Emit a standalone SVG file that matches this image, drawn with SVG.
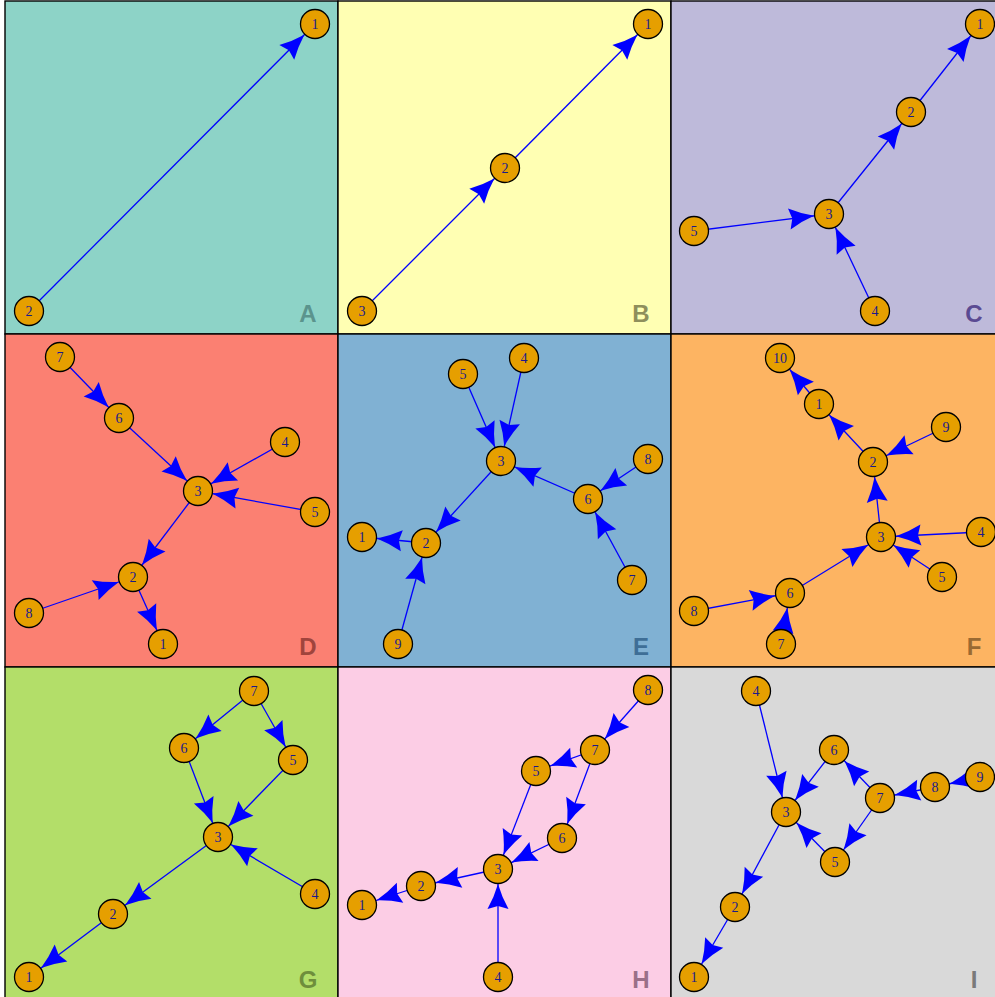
<svg xmlns="http://www.w3.org/2000/svg" width="995" height="997" viewBox="0 0 995 997">
<style>
.panel{stroke:#000;stroke-width:1.4}
.e{stroke:#0000ff;stroke-width:1.3;fill:none;marker-end:url(#ah)}
.n circle{fill:#E69F00;stroke:#000;stroke-width:1.3}
.n text{font-family:"Liberation Serif",serif;font-size:14px;fill:#1a1a8c;text-anchor:middle}
.lab{font-family:"Liberation Sans",Arial,sans-serif;font-weight:bold;font-size:24px;text-anchor:middle}
</style>
<defs>
<marker id="ah" markerUnits="userSpaceOnUse" orient="auto" refX="0" refY="0" markerWidth="1" markerHeight="1" overflow="visible">
<path d="M-15,0 Q-28,3.8 -40,10.5 L-37,0 L-40,-10.5 Q-28,-3.8 -15,0 Z" fill="#0000ff"/>
</marker>
</defs>
<g id="panels">
<rect class="panel" x="5" y="1" width="333" height="333" fill="#8DD3C7"/>
<rect class="panel" x="338" y="1" width="333" height="333" fill="#FFFFB3"/>
<rect class="panel" x="671" y="1" width="333" height="333" fill="#BEBADA"/>
<rect class="panel" x="5" y="334" width="333" height="333" fill="#FB8072"/>
<rect class="panel" x="338" y="334" width="333" height="333" fill="#80B1D3"/>
<rect class="panel" x="671" y="334" width="333" height="333" fill="#FDB462"/>
<rect class="panel" x="5" y="667" width="333" height="333" fill="#B3DE69"/>
<rect class="panel" x="338" y="667" width="333" height="333" fill="#FCCDE5"/>
<rect class="panel" x="671" y="667" width="333" height="333" fill="#D9D9D9"/>
</g>
<g id="labels">
<text class="lab" x="308" y="322" fill="#5b948d">A</text>
<text class="lab" x="641" y="322" fill="#8f8f5c">B</text>
<text class="lab" x="974" y="322" fill="#5a4a92">C</text>
<text class="lab" x="308" y="655" fill="#a0443c">D</text>
<text class="lab" x="641" y="655" fill="#3e6e96">E</text>
<text class="lab" x="974" y="655" fill="#9a6a32">F</text>
<text class="lab" x="308" y="988" fill="#6e8e3c">G</text>
<text class="lab" x="641" y="988" fill="#9a7088">H</text>
<text class="lab" x="974" y="988" fill="#7a7a7a">I</text>
</g>
<g id="connectors">
<line class="e" x1="29" y1="311" x2="315" y2="24"/>
<line class="e" x1="362" y1="311" x2="505" y2="168"/>
<line class="e" x1="505" y1="168" x2="648" y2="24"/>
<line class="e" x1="829" y1="214" x2="911" y2="112"/>
<line class="e" x1="911" y1="112" x2="980" y2="24"/>
<line class="e" x1="694" y1="231" x2="829" y2="214"/>
<line class="e" x1="875" y1="311" x2="829" y2="214"/>
<line class="e" x1="60" y1="357" x2="119" y2="418"/>
<line class="e" x1="119" y1="418" x2="198" y2="491"/>
<line class="e" x1="285" y1="442" x2="198" y2="491"/>
<line class="e" x1="315" y1="512" x2="198" y2="491"/>
<line class="e" x1="198" y1="491" x2="133" y2="577"/>
<line class="e" x1="29" y1="613" x2="133" y2="577"/>
<line class="e" x1="133" y1="577" x2="163" y2="644"/>
<line class="e" x1="463" y1="374" x2="501" y2="461"/>
<line class="e" x1="524" y1="358" x2="501" y2="461"/>
<line class="e" x1="588" y1="499" x2="501" y2="461"/>
<line class="e" x1="648" y1="459" x2="588" y2="499"/>
<line class="e" x1="632" y1="580" x2="588" y2="499"/>
<line class="e" x1="501" y1="461" x2="426" y2="543"/>
<line class="e" x1="426" y1="543" x2="362" y2="537"/>
<line class="e" x1="398" y1="644" x2="426" y2="543"/>
<line class="e" x1="819" y1="404" x2="780" y2="358"/>
<line class="e" x1="873" y1="462" x2="819" y2="404"/>
<line class="e" x1="946" y1="427" x2="873" y2="462"/>
<line class="e" x1="881" y1="537" x2="873" y2="462"/>
<line class="e" x1="981" y1="532" x2="881" y2="537"/>
<line class="e" x1="942" y1="577" x2="881" y2="537"/>
<line class="e" x1="790" y1="593" x2="881" y2="537"/>
<line class="e" x1="694" y1="611" x2="790" y2="593"/>
<line class="e" x1="781" y1="644" x2="790" y2="593"/>
<line class="e" x1="254" y1="691" x2="184" y2="748"/>
<line class="e" x1="254" y1="691" x2="293" y2="760"/>
<line class="e" x1="184" y1="748" x2="218" y2="837"/>
<line class="e" x1="293" y1="760" x2="218" y2="837"/>
<line class="e" x1="315" y1="894" x2="218" y2="837"/>
<line class="e" x1="218" y1="837" x2="113" y2="914"/>
<line class="e" x1="113" y1="914" x2="29" y2="977"/>
<line class="e" x1="648" y1="690" x2="595" y2="750"/>
<line class="e" x1="595" y1="750" x2="536" y2="771"/>
<line class="e" x1="595" y1="750" x2="562" y2="838"/>
<line class="e" x1="536" y1="771" x2="498" y2="869"/>
<line class="e" x1="562" y1="838" x2="498" y2="869"/>
<line class="e" x1="498" y1="977" x2="498" y2="869"/>
<line class="e" x1="498" y1="869" x2="421" y2="886"/>
<line class="e" x1="421" y1="886" x2="362" y2="905"/>
<line class="e" x1="756" y1="691" x2="786" y2="812"/>
<line class="e" x1="834" y1="750" x2="786" y2="812"/>
<line class="e" x1="880" y1="798" x2="834" y2="750"/>
<line class="e" x1="935" y1="787" x2="880" y2="798"/>
<line class="e" x1="980" y1="777" x2="935" y2="787"/>
<line class="e" x1="880" y1="798" x2="835" y2="862"/>
<line class="e" x1="835" y1="862" x2="786" y2="812"/>
<line class="e" x1="786" y1="812" x2="735" y2="907"/>
<line class="e" x1="735" y1="907" x2="694" y2="977"/>
</g>
<g id="A1" class="n" transform="translate(315,24)"><circle r="14.5"/><text y="5">1</text></g>
<g id="A2" class="n" transform="translate(29,311)"><circle r="14.5"/><text y="5">2</text></g>
<g id="B1" class="n" transform="translate(648,24)"><circle r="14.5"/><text y="5">1</text></g>
<g id="B2" class="n" transform="translate(505,168)"><circle r="14.5"/><text y="5">2</text></g>
<g id="B3" class="n" transform="translate(362,311)"><circle r="14.5"/><text y="5">3</text></g>
<g id="C1" class="n" transform="translate(980,24)"><circle r="14.5"/><text y="5">1</text></g>
<g id="C2" class="n" transform="translate(911,112)"><circle r="14.5"/><text y="5">2</text></g>
<g id="C3" class="n" transform="translate(829,214)"><circle r="14.5"/><text y="5">3</text></g>
<g id="C4" class="n" transform="translate(875,311)"><circle r="14.5"/><text y="5">4</text></g>
<g id="C5" class="n" transform="translate(694,231)"><circle r="14.5"/><text y="5">5</text></g>
<g id="D1" class="n" transform="translate(163,644)"><circle r="14.5"/><text y="5">1</text></g>
<g id="D2" class="n" transform="translate(133,577)"><circle r="14.5"/><text y="5">2</text></g>
<g id="D3" class="n" transform="translate(198,491)"><circle r="14.5"/><text y="5">3</text></g>
<g id="D4" class="n" transform="translate(285,442)"><circle r="14.5"/><text y="5">4</text></g>
<g id="D5" class="n" transform="translate(315,512)"><circle r="14.5"/><text y="5">5</text></g>
<g id="D6" class="n" transform="translate(119,418)"><circle r="14.5"/><text y="5">6</text></g>
<g id="D7" class="n" transform="translate(60,357)"><circle r="14.5"/><text y="5">7</text></g>
<g id="D8" class="n" transform="translate(29,613)"><circle r="14.5"/><text y="5">8</text></g>
<g id="E1" class="n" transform="translate(362,537)"><circle r="14.5"/><text y="5">1</text></g>
<g id="E2" class="n" transform="translate(426,543)"><circle r="14.5"/><text y="5">2</text></g>
<g id="E3" class="n" transform="translate(501,461)"><circle r="14.5"/><text y="5">3</text></g>
<g id="E4" class="n" transform="translate(524,358)"><circle r="14.5"/><text y="5">4</text></g>
<g id="E5" class="n" transform="translate(463,374)"><circle r="14.5"/><text y="5">5</text></g>
<g id="E6" class="n" transform="translate(588,499)"><circle r="14.5"/><text y="5">6</text></g>
<g id="E7" class="n" transform="translate(632,580)"><circle r="14.5"/><text y="5">7</text></g>
<g id="E8" class="n" transform="translate(648,459)"><circle r="14.5"/><text y="5">8</text></g>
<g id="E9" class="n" transform="translate(398,644)"><circle r="14.5"/><text y="5">9</text></g>
<g id="F1" class="n" transform="translate(819,404)"><circle r="14.5"/><text y="5">1</text></g>
<g id="F2" class="n" transform="translate(873,462)"><circle r="14.5"/><text y="5">2</text></g>
<g id="F3" class="n" transform="translate(881,537)"><circle r="14.5"/><text y="5">3</text></g>
<g id="F4" class="n" transform="translate(981,532)"><circle r="14.5"/><text y="5">4</text></g>
<g id="F5" class="n" transform="translate(942,577)"><circle r="14.5"/><text y="5">5</text></g>
<g id="F6" class="n" transform="translate(790,593)"><circle r="14.5"/><text y="5">6</text></g>
<g id="F7" class="n" transform="translate(781,644)"><circle r="14.5"/><text y="5">7</text></g>
<g id="F8" class="n" transform="translate(694,611)"><circle r="14.5"/><text y="5">8</text></g>
<g id="F9" class="n" transform="translate(946,427)"><circle r="14.5"/><text y="5">9</text></g>
<g id="F10" class="n" transform="translate(780,358)"><circle r="14.5"/><text y="5">10</text></g>
<g id="G1" class="n" transform="translate(29,977)"><circle r="14.5"/><text y="5">1</text></g>
<g id="G2" class="n" transform="translate(113,914)"><circle r="14.5"/><text y="5">2</text></g>
<g id="G3" class="n" transform="translate(218,837)"><circle r="14.5"/><text y="5">3</text></g>
<g id="G4" class="n" transform="translate(315,894)"><circle r="14.5"/><text y="5">4</text></g>
<g id="G5" class="n" transform="translate(293,760)"><circle r="14.5"/><text y="5">5</text></g>
<g id="G6" class="n" transform="translate(184,748)"><circle r="14.5"/><text y="5">6</text></g>
<g id="G7" class="n" transform="translate(254,691)"><circle r="14.5"/><text y="5">7</text></g>
<g id="H1" class="n" transform="translate(362,905)"><circle r="14.5"/><text y="5">1</text></g>
<g id="H2" class="n" transform="translate(421,886)"><circle r="14.5"/><text y="5">2</text></g>
<g id="H3" class="n" transform="translate(498,869)"><circle r="14.5"/><text y="5">3</text></g>
<g id="H4" class="n" transform="translate(498,977)"><circle r="14.5"/><text y="5">4</text></g>
<g id="H5" class="n" transform="translate(536,771)"><circle r="14.5"/><text y="5">5</text></g>
<g id="H6" class="n" transform="translate(562,838)"><circle r="14.5"/><text y="5">6</text></g>
<g id="H7" class="n" transform="translate(595,750)"><circle r="14.5"/><text y="5">7</text></g>
<g id="H8" class="n" transform="translate(648,690)"><circle r="14.5"/><text y="5">8</text></g>
<g id="I1" class="n" transform="translate(694,977)"><circle r="14.5"/><text y="5">1</text></g>
<g id="I2" class="n" transform="translate(735,907)"><circle r="14.5"/><text y="5">2</text></g>
<g id="I3" class="n" transform="translate(786,812)"><circle r="14.5"/><text y="5">3</text></g>
<g id="I4" class="n" transform="translate(756,691)"><circle r="14.5"/><text y="5">4</text></g>
<g id="I5" class="n" transform="translate(835,862)"><circle r="14.5"/><text y="5">5</text></g>
<g id="I6" class="n" transform="translate(834,750)"><circle r="14.5"/><text y="5">6</text></g>
<g id="I7" class="n" transform="translate(880,798)"><circle r="14.5"/><text y="5">7</text></g>
<g id="I8" class="n" transform="translate(935,787)"><circle r="14.5"/><text y="5">8</text></g>
<g id="I9" class="n" transform="translate(980,777)"><circle r="14.5"/><text y="5">9</text></g>
</svg>
